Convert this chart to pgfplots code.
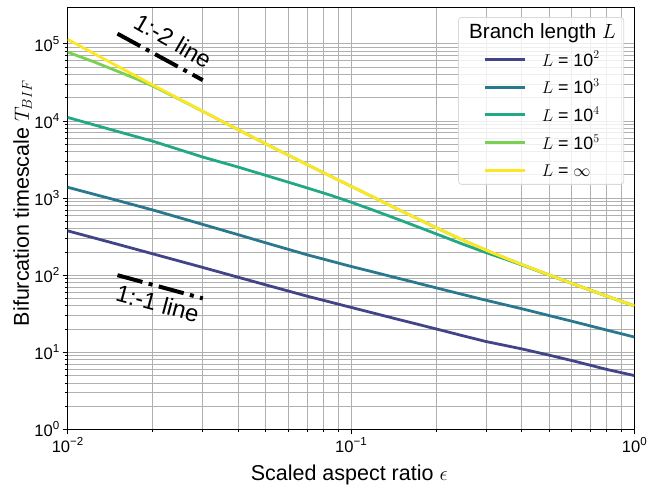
\documentclass[border=0pt]{standalone}
\usepackage{fontspec}
\setmainfont{Liberation Sans}
\usepackage{pgfplots}
\pgfplotsset{compat=1.18}
\definecolor{cA}{HTML}{414487}
\definecolor{cB}{HTML}{2A788E}
\definecolor{cC}{HTML}{22A884}
\definecolor{cD}{HTML}{7AD151}
\definecolor{cE}{HTML}{FDE725}
\newcommand{\tsup}[1]{10\raisebox{0.42em}{\fontsize{11.7}{11.7}\selectfont #1}}
\newcommand{\lsup}[1]{10\raisebox{0.40em}{\fontsize{12.6}{12.6}\selectfont $#1$}}
\begin{document}
\begin{tikzpicture}
\begin{axis}[
  scale only axis, width=570bp, height=425bp,
  xmode=log, ymode=log,
  xmin=0.01, xmax=1, ymin=1, ymax=3e5,
  xtick={0.01,0.1,1},
  xticklabels={\tsup{−2},\tsup{−1},\tsup{0}},
  ytick={1,10,100,1000,10000,100000},
  yticklabels={\tsup{0},\tsup{1},\tsup{2},\tsup{3},\tsup{4},\tsup{5}},
  ticklabel style={font=\fontsize{16.7}{16.7}\selectfont},
  grid=both,
  major grid style={black!31, line width=0.8bp},
  minor grid style={black!31, line width=0.8bp},
  tick align=outside, tick pos=left,
  major tick length=4.9bp, minor tick length=2.8bp,
  every tick/.style={black, line width=0.8bp},
  axis line style={line width=0.8bp},
  xlabel={Scaled aspect ratio $\epsilon$},
  ylabel={Bifurcation timescale $T_{BIF}$},
  every axis x label/.style={at={(axis description cs:0.497,-0.12)}, anchor=base, font=\fontsize{21.7}{21.7}\selectfont},
  every axis y label/.style={at={(axis description cs:-0.0684,0.536)}, rotate=90, anchor=base, font=\fontsize{21.7}{21.7}\selectfont},
  legend style={
    at={(axis description cs:0.982,0.976)}, anchor=north east,
    draw=black!15, line width=0.8bp, rounded corners=3bp,
    fill=white, fill opacity=0.8, text opacity=1, draw opacity=1,
    font=\fontsize{18}{18}\selectfont,
    inner xsep=8bp, inner ysep=6bp,
    row sep=11.5bp,
    nodes={inner sep=0pt, text depth=0.15em},
    /tikz/every odd column/.append style={column sep=15bp},
  },
  legend cell align=left,
  legend image code/.code={\path (0bp,0bp); \draw[#1] (17bp,0bp) -- (58bp,0bp);},
]
\addlegendimage{empty legend}
\addlegendentry{\hspace*{-73bp}\fontsize{20.8}{20.8}\selectfont Branch length $L$}

\addplot[cA, line width=2.8bp] coordinates {
(0.01,376) (0.015,252) (0.02,189) (0.03,126) (0.04,94) (0.05,75) (0.07,53.5)
(0.1,38.3) (0.15,26.2) (0.2,20.1) (0.25,16.3) (0.3,13.8) (0.4,11.1) (0.5,9.2)
(0.6,7.85) (0.7,6.8) (0.8,6.0) (1.0,5.0)};
\addlegendentry{$L$ = \lsup{2}}

\addplot[cB, line width=2.8bp] coordinates {
(0.01,1380) (0.015,930) (0.02,700) (0.03,455) (0.04,335) (0.05,263) (0.07,184)
(0.1,130) (0.15,89.5) (0.2,68.5) (0.25,55.8) (0.3,47.3) (0.4,36.8) (0.5,30)
(0.6,25.4) (0.7,22.0) (0.8,19.4) (1.0,15.8)};
\addlegendentry{$L$ = \lsup{3}}

\addplot[cC, line width=2.8bp] coordinates {
(0.01,11100) (0.015,7300) (0.02,5450) (0.03,3400) (0.04,2520) (0.05,1970)
(0.07,1355) (0.085,1084) (0.1,885) (0.12,696) (0.15,513) (0.2,343) (0.25,250)
(0.3,196) (0.35,162) (0.4,136) (0.5,100.5) (0.6,78.7) (0.7,63.9) (0.8,53.5)
(0.9,45.9) (1.0,40.0)};
\addlegendentry{$L$ = \lsup{4}}

\addplot[cD, line width=2.8bp] coordinates {
(0.01,78000) (0.0125,57500) (0.015,44000) (0.0175,35000) (0.02,28300)
(0.025,18750) (0.03,13300) (0.04,7690) (0.05,5050) (0.07,2717) (0.085,1910)
(0.1,1425) (0.15,685) (0.2,412) (0.25,282) (0.3,211) (0.35,167.5) (0.4,138)
(0.5,101) (0.6,78.7) (0.7,63.9) (0.8,53.5) (0.9,45.9) (1.0,40.0)};
\addlegendentry{$L$ = \lsup{5}}

\addplot[cE, line width=2.8bp] coordinates {
(0.01,114000) (0.0125,73300) (0.015,51200) (0.0175,37800) (0.02,29200)
(0.025,18950) (0.03,13320) (0.04,7690) (0.05,5050) (0.07,2717) (0.085,1910)
(0.1,1425) (0.15,685) (0.2,412) (0.25,282) (0.3,211) (0.35,167.5) (0.4,138)
(0.5,101) (0.6,78.7) (0.7,63.9) (0.8,53.5) (0.9,45.9) (1.0,40.0)};
\addlegendentry{$L$ = $\infty$\vphantom{\lsup{2}}}

\addplot[black, line width=4bp, line cap=butt, dash pattern=on 26bp off 6.5bp on 4bp off 6.5bp, forget plot]
  coordinates {(0.015,135000) (0.03,33750)};
\addplot[black, line width=4bp, line cap=butt, dash pattern=on 26bp off 6.5bp on 4bp off 6.5bp, forget plot]
  coordinates {(0.015,100) (0.03,50)};
\node[rotate=-30, font=\fontsize{24}{24}\selectfont] at (axis cs:0.02355,109000) {1:-2 line};
\node[rotate=-15, font=\fontsize{24}{24}\selectfont] at (axis cs:0.0208,42.9) {1:-1 line};
\end{axis}
\path (-68bp,-58bp) rectangle (582bp,432bp);
\end{tikzpicture}
\end{document}
